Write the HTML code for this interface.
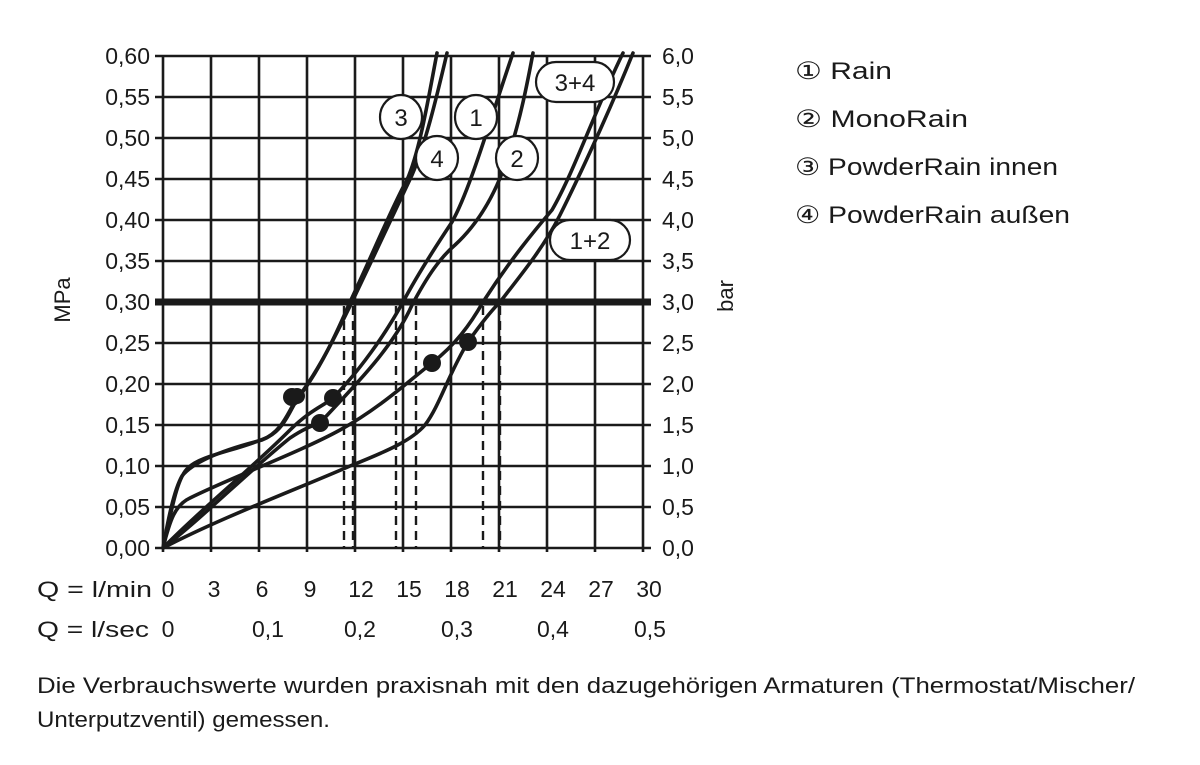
<!DOCTYPE html>
<html><head><meta charset="utf-8"><style>
html,body{margin:0;padding:0;background:#fff;}
svg{display:block;}
text{font-family:"Liberation Sans",sans-serif;fill:#1a1a1a;}
</style></head><body>
<svg width="1200" height="765" viewBox="0 0 1200 765" xmlns="http://www.w3.org/2000/svg">
<g stroke="#1a1a1a" stroke-width="2.6" fill="none">
<path d="M163 56V552M211 56V552M259 56V552M307 56V552M355 56V552M403 56V552M451 56V552M499 56V552M547 56V552M595 56V552M643 56V552"/>
<path d="M155 56H651M155 97H651M155 138H651M155 179H651M155 220H651M155 261H651M155 343H651M155 384H651M155 425H651M155 466H651M155 507H651M155 548H651"/>
<path d="M155 302H651" stroke-width="7"/>
<g stroke-dasharray="9,6" stroke-width="2.4">
<path d="M344 306V548M353 306V548M396 306V548M416 306V548M483 306V548M500 306V548"/>
</g>
<g stroke-width="3.6" stroke-linecap="round">
<path d="M163 548 C170 520 176 478 188 468 C200 455 240 450 268 437 C285 428 290 410 298 398 C320 370 338 330 350 302 C370 260 395 200 407 180 C420 150 428 100 437 53"/>
<path d="M163 548 C168 520 174 490 182 476 C195 460 230 448 262 440 C282 432 288 412 296 400 C318 372 336 335 352 302 C372 260 398 205 412 175 C425 145 436 100 447 53"/>
<path d="M163 548 C200 510 250 470 290 430 C310 410 325 405 333 398 C360 370 385 335 403 302 C420 270 440 240 452 222 C470 190 490 120 513 53"/>
<path d="M163 548 C200 520 250 470 290 438 C305 428 312 426 320 423 C350 390 392 350 412 305 C428 275 440 258 455 245 C480 222 498 190 510 150 C520 120 527 85 533 53"/>
<path d="M163 548 C220 518 300 488 350 466 C390 450 412 440 425 425 C440 405 448 375 468 342 C480 325 490 312 500 302 C525 270 545 245 560 215 C580 175 610 110 633 53"/>
<path d="M163 548 C170 520 175 505 190 498 C230 478 300 452 340 430 C380 408 410 380 432 363 C455 345 470 325 483 302 C510 260 535 230 552 210 C575 170 595 110 623 53"/>
</g>
</g>
<g fill="#1a1a1a">
<circle cx="292" cy="397" r="9"/><circle cx="297" cy="396" r="8"/>
<circle cx="333" cy="398" r="9"/>
<circle cx="320" cy="423" r="9"/>
<circle cx="432" cy="363" r="9"/>
<circle cx="468" cy="342" r="9"/>
</g>
<g fill="#fff" stroke="#1a1a1a" stroke-width="2.2">
<ellipse cx="401" cy="117" rx="21" ry="22"/>
<ellipse cx="476" cy="117" rx="21" ry="22"/>
<ellipse cx="437" cy="158" rx="21" ry="22"/>
<ellipse cx="517" cy="158" rx="21" ry="22"/>
<rect x="536" y="62" width="78" height="40" rx="20"/>
<rect x="550" y="220" width="80" height="40" rx="20"/>
</g>
<g font-size="24" text-anchor="middle">
<text x="401" y="126">3</text><text x="476" y="126">1</text>
<text x="437" y="167">4</text><text x="517" y="167">2</text>
<text x="575" y="91">3+4</text><text x="590" y="249">1+2</text>
</g>
<g font-size="23" text-anchor="end">
<text x="150" y="64">0,60</text><text x="150" y="105">0,55</text><text x="150" y="146">0,50</text>
<text x="150" y="187">0,45</text><text x="150" y="228">0,40</text><text x="150" y="269">0,35</text>
<text x="150" y="310">0,30</text><text x="150" y="351">0,25</text><text x="150" y="392">0,20</text>
<text x="150" y="433">0,15</text><text x="150" y="474">0,10</text><text x="150" y="515">0,05</text>
<text x="150" y="556">0,00</text>
</g>
<g font-size="23">
<text x="662" y="64">6,0</text><text x="662" y="105">5,5</text><text x="662" y="146">5,0</text>
<text x="662" y="187">4,5</text><text x="662" y="228">4,0</text><text x="662" y="269">3,5</text>
<text x="662" y="310">3,0</text><text x="662" y="351">2,5</text><text x="662" y="392">2,0</text>
<text x="662" y="433">1,5</text><text x="662" y="474">1,0</text><text x="662" y="515">0,5</text>
<text x="662" y="556">0,0</text>
</g>
<text font-size="22" transform="translate(70,300) rotate(-90)" text-anchor="middle">MPa</text>
<text font-size="22" transform="translate(733,296) rotate(-90)" text-anchor="middle">bar</text>
<g font-size="22">
<text x="37" y="597" textLength="115" lengthAdjust="spacingAndGlyphs">Q = l/min</text>
<text x="37" y="637" textLength="112" lengthAdjust="spacingAndGlyphs">Q = l/sec</text>
</g>
<g font-size="23" text-anchor="middle">
<text x="168" y="597">0</text><text x="214" y="597">3</text><text x="262" y="597">6</text>
<text x="310" y="597">9</text><text x="361" y="597">12</text><text x="409" y="597">15</text>
<text x="457" y="597">18</text><text x="505" y="597">21</text><text x="553" y="597">24</text>
<text x="601" y="597">27</text><text x="649" y="597">30</text>
<text x="168" y="637">0</text><text x="268" y="637">0,1</text><text x="360" y="637">0,2</text>
<text x="457" y="637">0,3</text><text x="553" y="637">0,4</text><text x="650" y="637">0,5</text>
</g>
<g font-size="24">
<text x="795" y="79" textLength="97" lengthAdjust="spacingAndGlyphs">① Rain</text>
<text x="795" y="127" textLength="173" lengthAdjust="spacingAndGlyphs">② MonoRain</text>
<text x="795" y="175" textLength="263" lengthAdjust="spacingAndGlyphs">③ PowderRain innen</text>
<text x="795" y="223" textLength="275" lengthAdjust="spacingAndGlyphs">④ PowderRain außen</text>
</g>
<g font-size="22">
<text x="37" y="693" textLength="1098" lengthAdjust="spacingAndGlyphs">Die Verbrauchswerte wurden praxisnah mit den dazugehörigen Armaturen (Thermostat/Mischer/</text>
<text x="37" y="727" textLength="293" lengthAdjust="spacingAndGlyphs">Unterputzventil) gemessen.</text>
</g>
</svg>
</body></html>
